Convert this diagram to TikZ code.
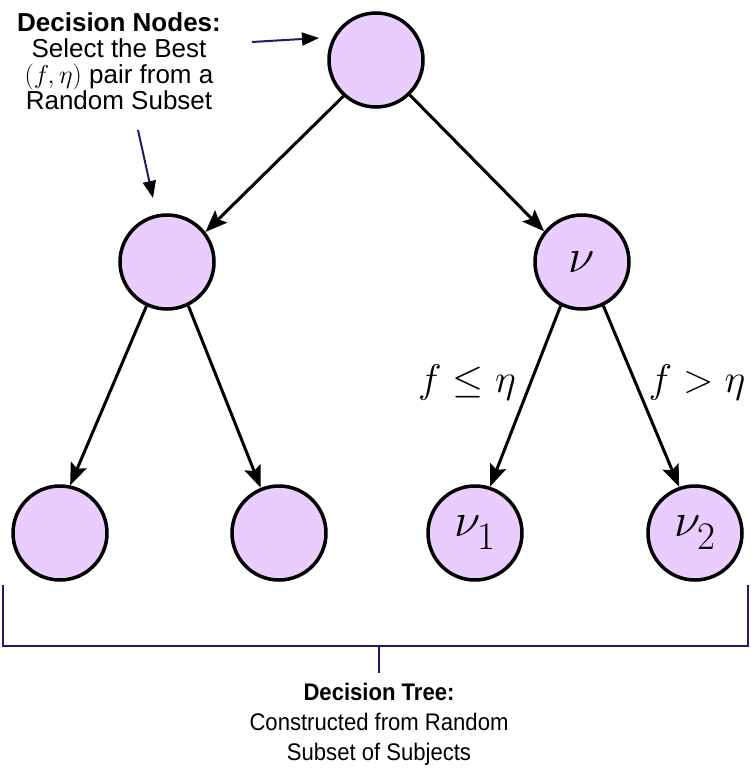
\RequirePackage{fix-cm}
\documentclass[tikz,border=0pt]{standalone}
\usepackage{fontspec}
\newfontfamily\lsans{Liberation Sans}
\newfontfamily\lsansn[FakeStretch=0.92]{Liberation Sans}
\usetikzlibrary{arrows.meta}
\newcommand{\bigsub}[1]{\kern-3pt\raisebox{-13pt}{\fontsize{39}{40}\selectfont #1}}
\definecolor{nodefill}{RGB}{234,205,255}
\definecolor{navy}{RGB}{28,28,104}
\begin{document}
\begin{tikzpicture}[x=1pt,y=-1pt,
  tnode/.style={circle,draw=black,fill=nodefill,line width=3.5pt,minimum size=94pt,inner sep=0pt,font=\fontsize{48}{54}\selectfont},
  tarrow/.style={line width=3pt,-{Stealth[length=22pt,width=17pt,inset=4pt]}},
  narrowarrow/.style={navy,line width=2pt,-{Triangle[length=17pt,width=13pt,black]}},
  brace/.style={navy,line width=2pt},
  elabel/.style={font=\fontsize{40}{44}\selectfont,inner sep=0pt},
  note/.style={align=center,inner sep=0pt}
]
\useasboundingbox (0,0) rectangle (750,773);
% tree nodes
\node[tnode] (root) at (376,60) {};
\node[tnode] (lm) at (167,262) {};
\node[tnode] (nu) at (582,262) {$\nu$};
\node[tnode] (l1) at (60,533) {};
\node[tnode] (l2) at (279,533) {};
\node[tnode] (nu1) at (475,533) {$\nu$\bigsub{1}};
\node[tnode] (nu2) at (695,533) {$\nu$\bigsub{2}};
% tree edges
\draw[tarrow] (root.-132) -- (lm.38);
\draw[tarrow] (root.-46) -- (nu.141);
\draw[tarrow] (lm.-115) -- (l1.78);
\draw[tarrow] (lm.-64) -- (l2.112);
\draw[tarrow] (nu.-116) -- (nu1.72);
\draw[tarrow] (nu.-64) -- (nu2.109);
% edge labels
\node[elabel] (lab1) at (467,382) {$f\leq\eta$};
\node[elabel] (lab2) at (697,382) {$f>\eta$};
% top-left note
\node[note,anchor=north,font=\lsans\fontsize{26}{26}\selectfont] (topnote) at (119,12.2)
  {{\bfseries Decision Nodes:}\\Select the Best\\$(f,\eta)$ pair from a\\Random Subset};
\coordinate (a1s) at (252,42);
\coordinate (a1e) at (319,38);
\coordinate (a2s) at (138,130);
\coordinate (a2e) at (153,198);
\draw[narrowarrow] (a1s) -- (a1e);
\draw[narrowarrow] (a2s) -- (a2e);
% bracket
\coordinate (bl) at (3,585);
\coordinate (blc) at (3,646);
\coordinate (brc) at (748,646);
\coordinate (br) at (748,585);
\coordinate (bm) at (379,646);
\coordinate (bt) at (379,673);
\draw[brace] (bl) -- (blc) -- (brc) -- (br);
\draw[brace] (bm) -- (bt);
% bottom note
\node[note,anchor=north,font=\lsansn\fontsize{24}{30}\selectfont] (botnote) at (379,682.8)
  {{\bfseries Decision Tree:}\\Constructed from Random\\Subset of Subjects};
\end{tikzpicture}
\end{document}
